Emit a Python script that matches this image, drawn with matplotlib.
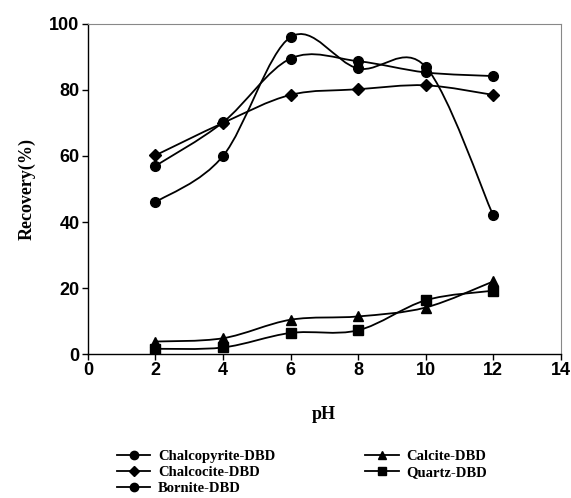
import numpy as np
import matplotlib
matplotlib.use("Agg")
import matplotlib.pyplot as plt
from matplotlib.path import Path
from matplotlib.patches import PathPatch
from matplotlib.lines import Line2D

ph = [2, 4, 6, 8, 10, 12]
chalcopyrite = [46, 60, 96, 86.5, 87, 42]
chalcocite = [60.2, 70, 78.5, 80.2, 81.4, 78.5]
bornite = [57, 70.2, 89.5, 88.7, 85.3, 84.2]
calcite = [3.8, 4.8, 10.4, 11.4, 14.1, 22]
quartz = [1.6, 2.0, 6.4, 7.2, 16.3, 19.2]

names = ['Chalcopyrite-DBD', 'Chalcocite-DBD', 'Bornite-DBD', 'Calcite-DBD', 'Quartz-DBD']
series = [chalcopyrite, chalcocite, bornite, calcite, quartz]
markers = ['o', 'D', 'o', '^', 's']
msizes = [7, 6, 7, 7, 6.5]


def smooth_path(x, y, t=1/6.):
    # Excel-like smoothed line: cubic bezier through the points
    x = np.asarray(x, float)
    y = np.asarray(y, float)
    verts = [(x[0], y[0])]
    codes = [Path.MOVETO]
    n = len(x)
    for i in range(n - 1):
        x0, y0 = (x[i - 1], y[i - 1]) if i > 0 else (x[i], y[i])
        x3, y3 = (x[i + 2], y[i + 2]) if i + 2 < n else (x[i + 1], y[i + 1])
        c1 = (x[i] + (x[i + 1] - x0) * t, y[i] + (y[i + 1] - y0) * t)
        c2 = (x[i + 1] - (x3 - x[i]) * t, y[i + 1] - (y3 - y[i]) * t)
        verts += [c1, c2, (x[i + 1], y[i + 1])]
        codes += [Path.CURVE4] * 3
    return Path(verts, codes)


fig = plt.figure(figsize=(5.71, 4.98), dpi=100)
ax = fig.add_axes([0.154, 0.289, 0.828, 0.663])

for vals, m, ms in zip(series, markers, msizes):
    ax.add_patch(PathPatch(smooth_path(ph, vals), fill=False, edgecolor='black', lw=1.3))
    ax.plot(ph, vals, linestyle='none', marker=m, color='black', markersize=ms)

ax.set_xlim(0, 14)
ax.set_ylim(0, 100)
ax.set_xticks(range(0, 15, 2))
ax.set_yticks(range(0, 101, 20))
for lab in ax.get_xticklabels() + ax.get_yticklabels():
    lab.set_fontfamily('Liberation Sans')
    lab.set_fontweight('bold')
    lab.set_fontsize(13)
ax.tick_params(direction='out', length=4, width=1, pad=2)

for s in ['top', 'right']:
    ax.spines[s].set_color('#888888')
ax.spines['left'].set_linewidth(1)
ax.spines['bottom'].set_linewidth(1)

ax.set_ylabel('Recovery(%)', fontfamily='Liberation Serif', fontweight='bold', fontsize=13, labelpad=10)
ax.set_xlabel('pH', fontfamily='Liberation Serif', fontweight='bold', fontsize=13, labelpad=19)

handles = [Line2D([], [], color='black', lw=1.3, marker=m, markersize=ms - 1)
           for m, ms in zip(markers, msizes)]
fig.legend(handles, names, ncol=2, loc='upper left', bbox_to_anchor=(0.192, 0.112),
           frameon=False, prop={'family': 'Liberation Serif', 'weight': 'bold', 'size': 10.5},
           handlelength=2.3, columnspacing=6.2, labelspacing=0.2, handletextpad=0.5,
           borderpad=0)

fig.savefig('out.png', dpi=100)
